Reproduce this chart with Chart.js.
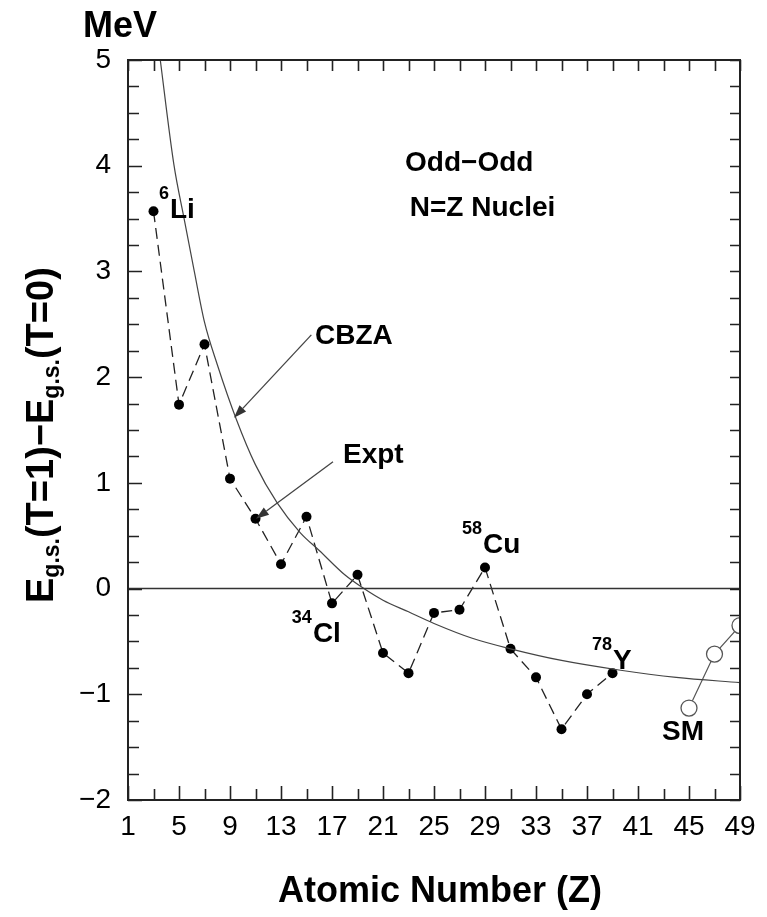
<!DOCTYPE html>
<html>
<head>
<meta charset="utf-8">
<script src="https://cdn.jsdelivr.net/npm/chart.js@4.4.1/dist/chart.umd.min.js"></script>
<style>
  html, body { margin: 0; padding: 0; background: #ffffff; }
  #wrap { width: 767px; height: 917px; }
</style>
</head>
<body>
<div id="wrap"><canvas id="c" width="767" height="917"></canvas></div>
<script>
// ---- data ----
const exptZ = [3, 5, 7, 9, 11, 13, 15, 17, 19, 21, 23, 25, 27, 29, 31, 33, 35, 37, 39];
const exptE = [3.57, 1.74, 2.31, 1.04, 0.66, 0.23, 0.68, -0.14, 0.13, -0.61, -0.80, -0.23, -0.20, 0.20, -0.57, -0.84, -1.33, -1.00, -0.80];

const smZ = [45, 47, 49];
const smE = [-1.13, -0.62, -0.35];

const cbzaZ = [3, 3.5, 4.6, 5.4, 6.2, 7, 8, 9.5, 11, 12.7, 14.5, 16, 18, 19.5, 21, 23, 25, 28, 31, 35, 39.5, 44, 49];
const cbzaE = [5.5, 5.03, 4.01, 3.5, 3.0, 2.52, 2.12, 1.6, 1.17, 0.81, 0.53, 0.36, 0.13, 0.0, -0.11, -0.22, -0.33, -0.47, -0.57, -0.68, -0.77, -0.84, -0.89];

const zeroZ = [1, 49];
const zeroE = [0, 0];

const xMin = 1, xMax = 49, xStep = 2, xLabelEvery = 4;
const yMin = -2, yMax = 5, yStep = 0.25;

const FONT = '"Liberation Sans", Arial, Helvetica, sans-serif';

// annotation texts (anchor in data coordinates)
const labels = [
  { sup: '', text: 'Odd\u2212Odd', x: 22.73, y: 3.95 },
  { sup: '', text: 'N=Z Nuclei', x: 23.1, y: 3.52 },
  { sup: '', text: 'CBZA', x: 15.67, y: 2.31 },
  { sup: '', text: 'Expt', x: 17.86, y: 1.19 },
  { sup: '6', text: 'Li', x: 4.29, y: 3.51 },
  { sup: '34', text: 'Cl', x: 15.5, y: -0.51 },
  { sup: '58', text: 'Cu', x: 28.84, y: 0.34 },
  { sup: '78', text: 'Y', x: 39.04, y: -0.757 },
  { sup: '', text: 'SM', x: 42.88, y: -1.43 }
];
const arrows = [
  { from: [15.38, 2.40], to: [9.31, 1.615] },
  { from: [17.08, 1.20], to: [11.04, 0.66] }
];

const pts = (xs, ys) => xs.map((x, i) => ({ x: x, y: ys[i] }));

const framePlugin = {
  id: 'frame',
  afterDatasetsDraw(chart) {
    const { ctx, chartArea: a, scales } = chart;
    const xs = scales.x, ys = scales.y;
    ctx.save();
    ctx.strokeStyle = '#222';
    ctx.lineWidth = 1.6;
    // x ticks (inward, bottom and top)
    xs.ticks.forEach(t => {
      const px = Math.round(xs.getPixelForValue(t.value)) + 0.5;
      const major = ((t.value - xMin) % xLabelEvery) === 0;
      const lb = major ? 14 : 11;
      ctx.beginPath();
      ctx.moveTo(px, a.bottom); ctx.lineTo(px, a.bottom - lb);
      ctx.moveTo(px, a.top); ctx.lineTo(px, a.top + 11);
      ctx.stroke();
    });
    ys.ticks.forEach(t => {
      const py = Math.round(ys.getPixelForValue(t.value)) + 0.5;
      const major = Number.isInteger(t.value);
      const ll = major ? 14 : 11;
      ctx.beginPath();
      ctx.moveTo(a.left, py); ctx.lineTo(a.left + ll, py);
      ctx.moveTo(a.right, py); ctx.lineTo(a.right - 10, py);
      ctx.stroke();
    });
    ctx.lineWidth = 2;
    ctx.strokeRect(a.left, a.top, a.right - a.left, a.bottom - a.top);

    // arrows
    ctx.strokeStyle = '#444';
    ctx.fillStyle = '#333';
    ctx.lineWidth = 1.3;
    arrows.forEach(ar => {
      const x1 = xs.getPixelForValue(ar.from[0]), y1 = ys.getPixelForValue(ar.from[1]);
      const x2 = xs.getPixelForValue(ar.to[0]), y2 = ys.getPixelForValue(ar.to[1]);
      const ang = Math.atan2(y2 - y1, x2 - x1);
      const hl = 13, hw = 4.5;
      const bx = x2 - hl * Math.cos(ang), by = y2 - hl * Math.sin(ang);
      ctx.beginPath(); ctx.moveTo(x1, y1); ctx.lineTo(bx, by); ctx.stroke();
      ctx.beginPath();
      ctx.moveTo(x2, y2);
      ctx.lineTo(bx + hw * Math.sin(ang), by - hw * Math.cos(ang));
      ctx.lineTo(bx - hw * Math.sin(ang), by + hw * Math.cos(ang));
      ctx.closePath(); ctx.fill();
    });

    // text labels
    ctx.fillStyle = '#000';
    ctx.textBaseline = 'alphabetic';
    labels.forEach(l => {
      const px = xs.getPixelForValue(l.x), py = ys.getPixelForValue(l.y);
      ctx.font = 'bold 28px ' + FONT;
      ctx.textAlign = 'left';
      ctx.fillText(l.text, px, py);
      if (l.sup) {
        ctx.font = 'bold 18px ' + FONT;
        ctx.textAlign = 'right';
        ctx.fillText(l.sup, px - 1, py - 19);
      }
    });

    // MeV unit label
    ctx.font = 'bold 36px ' + FONT;
    ctx.textAlign = 'right';
    ctx.fillText('MeV', 157, 37);

    // x axis title
    ctx.font = 'bold 36px ' + FONT;
    ctx.textAlign = 'center';
    ctx.fillText('Atomic Number (Z)', 440, 902);

    // y axis title (rotated, with subscripts)
    ctx.save();
    ctx.translate(53, 603);
    ctx.rotate(-Math.PI / 2);
    ctx.textAlign = 'left';
    const big = 'bold 38px ' + FONT, small = 'bold 23px ' + FONT;
    const parts = [
      ['E', big, 0], ['g.s.', small, 6], ['(T=1)\u2212E', big, 0], ['g.s.', small, 6], ['(T=0)', big, 0]
    ];
    let cx = 0;
    parts.forEach(p => {
      ctx.font = p[1];
      ctx.fillText(p[0], cx, p[2]);
      cx += ctx.measureText(p[0]).width;
    });
    ctx.restore();
    ctx.restore();
  }
};

new Chart(document.getElementById('c'), {
  type: 'scatter',
  data: {
    datasets: [
      { label: 'zero', data: pts(zeroZ, zeroE), showLine: true, borderColor: '#333', borderWidth: 1.5, pointRadius: 0 },
      { label: 'CBZA', data: pts(cbzaZ, cbzaE), showLine: true, borderColor: '#444', borderWidth: 1.2, pointRadius: 0, cubicInterpolationMode: 'monotone' },
      { label: 'Expt', data: pts(exptZ, exptE), showLine: true, borderColor: '#222', borderWidth: 1.3, borderDash: [11, 6],
        pointRadius: 5, pointBackgroundColor: '#000', pointBorderColor: '#000', pointBorderWidth: 0 },
      { label: 'SM', data: pts(smZ, smE), showLine: true, borderColor: '#555', borderWidth: 1.2,
        pointRadius: 8, pointBackgroundColor: '#fff', pointBorderColor: '#555', pointBorderWidth: 1.3 }
    ]
  },
  options: {
    responsive: false,
    animation: false,
    events: [],
    layout: { padding: { top: 60, right: 27, left: 0, bottom: 0 } },
    plugins: { legend: { display: false }, tooltip: { enabled: false } },
    scales: {
      x: {
        type: 'linear', min: xMin, max: xMax,
        afterFit(s) { s.height = 117; },
        grid: { display: false, drawTicks: false },
        border: { display: false },
        ticks: {
          stepSize: xStep, autoSkip: false, maxRotation: 0, padding: 10,
          color: '#000', font: { family: FONT, size: 28 },
          callback: v => ((v - xMin) % xLabelEvery === 0 ? String(v) : '')
        }
      },
      y: {
        type: 'linear', min: yMin, max: yMax,
        afterFit(s) { s.width = 128; },
        grid: { display: false, drawTicks: false },
        border: { display: false },
        ticks: {
          stepSize: yStep, autoSkip: false, padding: 17,
          color: '#000', font: { family: FONT, size: 28 },
          callback: v => (Number.isInteger(v) ? (v < 0 ? '\u2212' + Math.abs(v) : String(v)) : '')
        }
      }
    }
  },
  plugins: [framePlugin]
});
</script>
</body>
</html>
